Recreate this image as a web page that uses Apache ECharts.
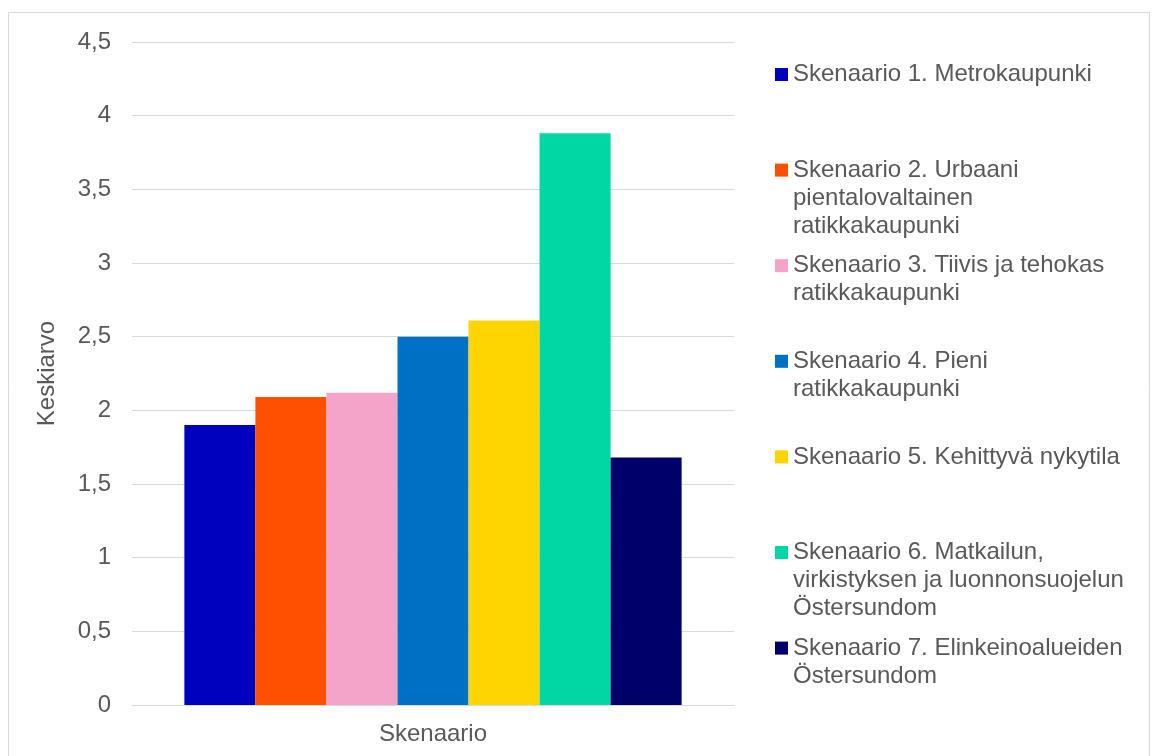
<!DOCTYPE html>
<html>
<head>
<meta charset="utf-8">
<title>Skenaario</title>
<script src="https://cdn.jsdelivr.net/npm/echarts@6/dist/echarts.min.js"></script>
<style>
  html, body { margin: 0; padding: 0; background: #fff; }
  #main { width: 1155px; height: 756px; }
</style>
</head>
<body>
<div id="main"></div>
<script>
// data
var categories = ['Skenaario'];
var legendLines = [
  ['Skenaario 1. Metrokaupunki'],
  ['Skenaario 2. Urbaani', 'pientalovaltainen', 'ratikkakaupunki'],
  ['Skenaario 3. Tiivis ja tehokas', 'ratikkakaupunki'],
  ['Skenaario 4. Pieni', 'ratikkakaupunki'],
  ['Skenaario 5. Kehittyvä nykytila'],
  ['Skenaario 6. Matkailun,', 'virkistyksen ja luonnonsuojelun', 'Östersundom'],
  ['Skenaario 7. Elinkeinoalueiden', 'Östersundom']
];
var values = [1.90, 2.09, 2.12, 2.50, 2.61, 3.88, 1.68];
var colors = ['#0000bf', '#ff5000', '#f4a4c9', '#0070c4', '#ffd500', '#00d7a5', '#00006b'];
var yTicks = { min: 0, max: 4.5, interval: 0.5 };

var FONT = 'Liberation Sans, Arial, sans-serif';
var TXT = '#595959';
var FS = 24;
var LH = 28;

var myChart = echarts.init(document.getElementById('main'));

var names = legendLines.map(function (l) { return l.join(' '); });

var series = names.map(function (n, i) {
  return {
    name: n,
    type: 'bar',
    barGap: 0,
    barCategoryGap: '17.4%',
    itemStyle: { color: colors[i] },
    data: [values[i]]
  };
});

// one legend per entry so the entries sit at even spacing like the original
var legends = legendLines.map(function (lines, i) {
  var n = lines.length;
  var center = 74.5 + i * 95.6;
  // blank lines in front keep the first text line level with the marker
  var pad = new Array(n).join('\n');
  return {
    orient: 'vertical',
    left: 775,
    top: center - (2 * n - 1) * LH / 2,
    padding: 0,
    icon: 'rect',
    itemWidth: 13,
    itemHeight: 13,
    selectedMode: false,
    data: [names[i]],
    formatter: function () { return pad + lines.join('\n'); },
    textStyle: { fontFamily: FONT, fontSize: FS, color: TXT, lineHeight: LH }
  };
});

myChart.setOption({
  backgroundColor: '#fff',
  animation: false,
  color: colors,
  graphic: [{
    type: 'rect',
    shape: { x: 8.5, y: 12.5, width: 1141, height: 760 },
    style: { fill: 'none', stroke: '#d9d9d9', lineWidth: 1 },
    silent: true
  }],
  grid: { left: 132, right: 421, top: 42, bottom: 51 },
  legend: legends,
  xAxis: {
    type: 'category',
    data: categories,
    axisTick: { show: false },
    axisLine: { lineStyle: { color: '#d9d9d9', width: 1 } },
    axisLabel: { fontFamily: FONT, fontSize: FS, color: TXT, margin: 17 }
  },
  yAxis: {
    type: 'value',
    min: yTicks.min,
    max: yTicks.max,
    interval: yTicks.interval,
    name: 'Keskiarvo',
    nameLocation: 'middle',
    nameGap: 73,
    nameTextStyle: { fontFamily: FONT, fontSize: FS, color: TXT },
    axisLine: { show: false },
    axisTick: { show: false },
    splitLine: { lineStyle: { color: '#d9d9d9', width: 1 } },
    axisLabel: {
      fontFamily: FONT, fontSize: FS, color: TXT, margin: 21,
      formatter: function (v) { return String(v).replace('.', ','); }
    }
  },
  series: series
});
</script>
</body>
</html>
